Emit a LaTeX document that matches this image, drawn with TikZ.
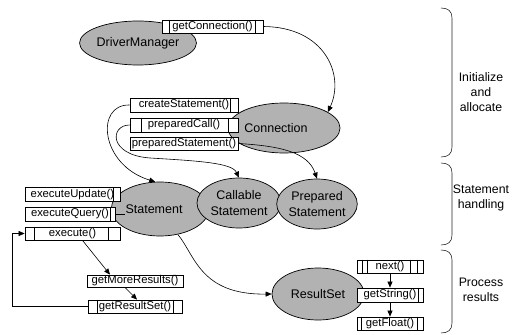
\documentclass[tikz,border=0pt]{standalone}
\usepackage{fontspec}
\setmainfont{Liberation Sans}
\usetikzlibrary{shapes.geometric,arrows.meta}

\tikzset{
  oval/.style={ellipse, draw=black, line width=0.7pt, fill=black!30, inner sep=0pt,
               align=center, font=\fontsize{12.5}{16}\selectfont},
  box/.style={rectangle, draw=black, line width=0.8pt, fill=white, inner sep=0pt,
              font=\fontsize{11.3}{12}\selectfont},
  cellline/.style={line width=0.8pt},
  arr/.style={-{Triangle[length=6pt,width=5pt]}, line width=0.6pt},
  link/.style={line width=0.6pt},
  brc/.style={line width=0.6pt, black!85},
  side/.style={align=center, font=\fontsize{12.3}{15}\selectfont}
}
% inner cell borders of the method boxes, measured from the left / right edge
\newcommand\cellL[2]{\draw[cellline] ([xshift=#2]#1.north west) -- ([xshift=#2]#1.south west);}
\newcommand\cellR[2]{\draw[cellline] ([xshift=-#2]#1.north east) -- ([xshift=-#2]#1.south east);}

\begin{document}
\begin{tikzpicture}[x=1pt,y=-1pt]
\useasboundingbox (0,0) rectangle (513,334);

% ---- objects ----
\node[oval, minimum width=94pt, minimum height=44pt] (dm) at (138,43) {DriverManager};
\node[oval, minimum width=100pt, minimum height=50pt] (conn) at (284,128) {Connection\hspace*{16pt}};
\node[oval, minimum width=88pt, minimum height=54pt] (stmt) at (160,209) {Statement\hspace*{12pt}};
\node[oval, minimum width=84pt, minimum height=50pt] (call) at (239,203) {Callable\\Statement};
\node[oval, minimum width=80pt, minimum height=50pt] (prep) at (317,204) {Prepared\\Statement};
\node[oval, minimum width=92pt, minimum height=52pt] (rs) at (318,294) {ResultSet};

% ---- methods ----
\node[box, minimum width=101pt, minimum height=13pt] (gc) at (212.5,26.5) {getConnection()};
\node[box, minimum width=108pt, minimum height=14pt] (cs) at (184,105) {createStatement()};
\node[box, minimum width=108pt, minimum height=14pt] (pc) at (184,125) {preparedCall()};
\node[box, minimum width=108pt, minimum height=13pt] (ps) at (184,143.5) {preparedStatement()};
\node[box, minimum width=95pt, minimum height=14pt] (eu) at (72.5,194.5) {executeUpdate()};
\node[box, minimum width=90pt, minimum height=14pt] (eq) at (70,214) {executeQuery()};
\node[box, minimum width=95pt, minimum height=13pt] (ex) at (72.5,233.5) {execute()};
\node[box, minimum width=96pt, minimum height=12pt] (gmr) at (135,281) {getMoreResults()};
\node[box, minimum width=94pt, minimum height=13pt] (grs) at (135,306.5) {getResultSet()};
\node[box, minimum width=66pt, minimum height=13pt] (nx) at (390,266.5) {next()};
\node[box, minimum width=66pt, minimum height=14pt] (gs) at (390,295) {getString()};
\node[box, minimum width=66pt, minimum height=13pt] (gf) at (390,323.5) {getFloat()};

\cellL{gc}{8pt}  \cellR{gc}{8pt}
\cellR{cs}{8pt}
\cellL{pc}{12pt} \cellR{pc}{10pt}
\cellR{eu}{7pt}
\cellR{eq}{5pt}
\cellL{ex}{10pt} \cellR{ex}{12pt}
\cellL{grs}{10pt} \cellR{grs}{9pt}
\cellL{nx}{6pt} \cellL{nx}{11pt} \cellR{nx}{6pt} \cellR{nx}{13pt}
\cellR{gs}{5pt}
\cellL{gf}{5pt} \cellR{gf}{6pt}

% ---- connectors ----
\draw[arr] (gc.east) .. controls (325,27) and (345,75) .. (conn.20);
\draw[arr] (cs.west) .. controls (95,104) and (100,165) .. (stmt.100);
\draw[arr] (pc.west) .. controls (110,125) and (108,155) .. (150,158)
                     .. controls (200,161) and (232,163) .. (call.north);
\draw[arr] (ps.east) .. controls (280,146) and (308,152) .. (prep.north);
\draw[link] (eq.east) -- ++(10,0);
\draw[arr] (stmt.-55) .. controls (195,255) and (200,295) .. (rs.west);
\draw[arr] ([xshift=10pt]ex.south) -- ([xshift=-25pt]gmr.north);
\draw[arr] ([xshift=-10pt]gmr.south) -- ([xshift=2pt]grs.north);
\coordinate (lp) at (12,306.5);
\draw[arr] (grs.west) -- (lp) |- (ex.west);
\draw[arr] (nx.south) -- (gs.north);
\draw[arr] (gs.south) -- (gf.north);

% ---- phase brackets ----
\draw[brc] (441,8) .. controls (448,8) and (452,11) .. (452,18) -- (452,147)
           .. controls (452,154) and (448,157) .. (441,157);
\draw[brc] (441,163) .. controls (448,163) and (452,166) .. (452,173) -- (452,235)
           .. controls (452,242) and (448,245) .. (441,245);
\draw[brc] (441,250) .. controls (448,250) and (452,253) .. (452,260) -- (452,323)
           .. controls (452,330) and (448,333) .. (441,333);

\node[side] (l1) at (481,92) {Initialize\\and\\allocate};
\node[side] (l2) at (481,198) {Statement\\handling};
\node[side] (l3) at (481,290) {Process\\results};
\end{tikzpicture}
\end{document}
